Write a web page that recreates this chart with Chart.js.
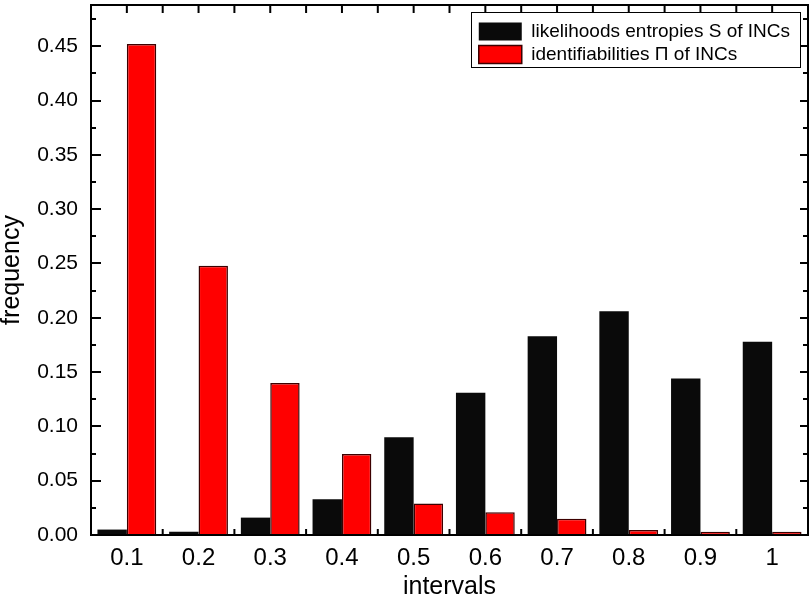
<!DOCTYPE html>
<html><head><meta charset="utf-8">
<script src="https://cdn.jsdelivr.net/npm/chart.js@4"></script>
<style>html,body{margin:0;padding:0;background:#fff}canvas{display:block}</style>
</head><body>
<canvas id="c" width="812" height="600"></canvas>
<script>
const categories = ['0.1','0.2','0.3','0.4','0.5','0.6','0.7','0.8','0.9','1'];
const entropyS = [0.005,0.003,0.016,0.033,0.090,0.131,0.183,0.206,0.144,0.178];
const identifiabilityPi = [0.452,0.248,0.140,0.0745,0.029,0.021,0.015,0.0046,0.003,0.003];
const seriesNames = ['likelihoods entropies S of INCs','identifiabilities \u03A0 of INCs'];
const yMin = 0, yMax = 0.488, yStep = 0.05, yMinorStep = 0.025;
const xTitle = 'intervals', yTitle = 'frequency';

const FONT = "'Liberation Sans', Arial, sans-serif";

const framePlugin = {
  id: 'frame',
  afterLayout(chart) {
    const lg = chart.legend, ca = chart.chartArea;
    const ctx = chart.ctx;
    const lo = chart.options.plugins.legend.labels;
    ctx.save();
    ctx.font = lo.font.size + 'px ' + lo.font.family;
    let w = 0;
    chart.data.datasets.forEach(d => { w = Math.max(w, ctx.measureText(d.label).width); });
    ctx.restore();
    const contentW = lo.boxWidth + lo.font.size / 2 + w;
    const borderRight = ca.right - 8;
    const contentLeft = borderRight - 10 - contentW;
    lg.left = contentLeft - lo.padding;
    lg.top = ca.top + 13;
    chart.$legendBorder = {
      left: contentLeft - 8, right: borderRight,
      top: ca.top + 7,
      bottom: ca.top + 7 + 9 + chart.data.datasets.length * (lo.font.size * lo.font.lineHeight + lo.padding)
    };
  },
  beforeDraw(chart) {
    const ctx = chart.ctx;
    ctx.save();
    ctx.fillStyle = '#fff';
    ctx.fillRect(0, 0, chart.width, chart.height);
    const b = chart.$legendBorder;
    if (b) {
      ctx.strokeStyle = '#000';
      ctx.lineWidth = 1;
      ctx.strokeRect(Math.round(b.left) + 0.5, Math.round(b.top) + 0.5, Math.round(b.right - b.left), Math.round(b.bottom - b.top));
    }
    ctx.restore();
  },
  afterDraw(chart) {
    const ctx = chart.ctx, ca = chart.chartArea;
    const xs = chart.scales.x, ys = chart.scales.y;
    ctx.save();
    ctx.strokeStyle = '#000';
    ctx.lineWidth = 2;
    ctx.strokeRect(ca.left, ca.top, ca.right - ca.left, ca.bottom - ca.top);
    ctx.beginPath();
    for (let v = yMin; v <= yMax + 1e-9; v += yStep) {
      const p = Math.round(ys.getPixelForValue(v));
      ctx.moveTo(ca.left, p); ctx.lineTo(ca.left + 10, p);
      ctx.moveTo(ca.right, p); ctx.lineTo(ca.right - 8, p);
    }
    for (let v = yMinorStep; v <= yMax + 1e-9; v += yStep) {
      const p = Math.round(ys.getPixelForValue(v));
      ctx.moveTo(ca.left, p); ctx.lineTo(ca.left + 5, p);
      ctx.moveTo(ca.right, p); ctx.lineTo(ca.right - 5, p);
    }
    const n = categories.length;
    for (let i = 1; i < n; i++) {
      const b = (xs.getPixelForValue(i - 1) + xs.getPixelForValue(i)) / 2;
      ctx.moveTo(b, ca.bottom); ctx.lineTo(b, ca.bottom - 6);
      ctx.moveTo(b, ca.top); ctx.lineTo(b, ca.top + 8);
    }
    for (let i = 0; i < n; i++) {
      const c = xs.getPixelForValue(i);
      ctx.moveTo(c, ca.top); ctx.lineTo(c, ca.top + 8);
    }
    ctx.stroke();
    ctx.restore();
  }
};

new Chart(document.getElementById('c'), {
  type: 'bar',
  data: {
    labels: categories,
    datasets: [
      { label: seriesNames[0], data: entropyS, backgroundColor: '#0a0a0a', borderColor: '#0a0a0a', borderWidth: 0 },
      { label: seriesNames[1], data: identifiabilityPi, backgroundColor: '#ff0000', borderColor: '#3c0000', borderWidth: 1.5 }
    ]
  },
  options: {
    responsive: false,
    devicePixelRatio: 1,
    animation: false,
    layout: { padding: { top: 5, right: 4, left: 0, bottom: 0 } },
    datasets: { bar: { categoryPercentage: 0.82, barPercentage: 1.0 } },
    plugins: {
      tooltip: { enabled: false },
      legend: {
        position: 'chartArea',
        align: 'start',
        labels: {
          color: '#000',
          boxWidth: 43,
          boxHeight: 18,
          padding: 4,
          font: { family: FONT, size: 19, lineHeight: 1.0 }
        }
      }
    },
    scales: {
      x: {
        grid: { display: false, drawTicks: false },
        border: { display: false },
        ticks: { color: '#000', padding: 9, maxRotation: 0, font: { family: FONT, size: 24 } },
        title: { display: true, text: xTitle, color: '#000', padding: { top: 0, bottom: 0 }, font: { family: FONT, size: 25, lineHeight: 1.0 } },
        afterFit(s) { s.height = 65; }
      },
      y: {
        min: yMin, max: yMax,
        grid: { display: false, drawTicks: false },
        border: { display: false },
        ticks: {
          stepSize: yStep, color: '#000', padding: 13,
          font: { family: FONT, size: 21 },
          callback: v => Number(v).toFixed(2)
        },
        afterBuildTicks(s) {
          s.ticks = s.ticks.filter(t => Math.abs(t.value / yStep - Math.round(t.value / yStep)) < 1e-6);
        },
        title: { display: true, text: yTitle, color: '#000', padding: { top: 0, bottom: 0 }, font: { family: FONT, size: 25, lineHeight: 1.0 } },
        afterFit(s) { s.width = 91; s.paddingTop = 0; s.paddingBottom = 0; }
      }
    }
  },
  plugins: [framePlugin]
});
</script>
</body></html>
